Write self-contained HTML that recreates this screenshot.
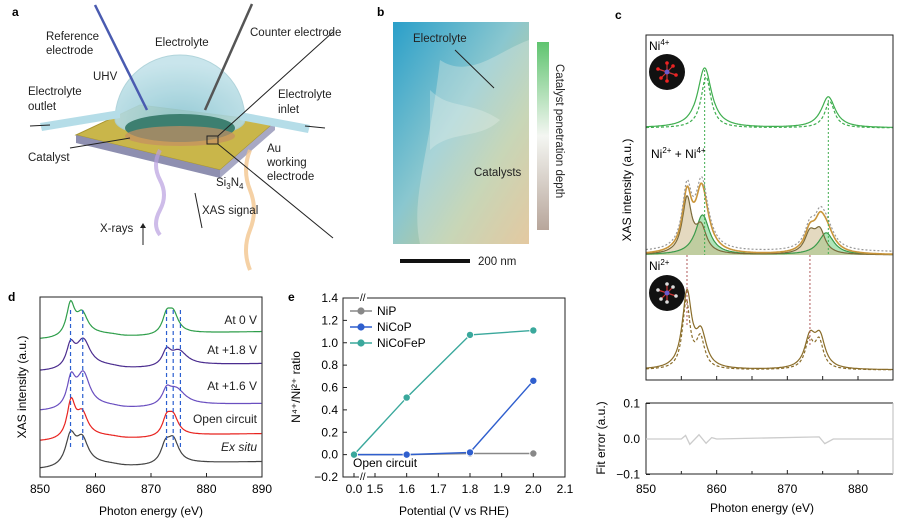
<!DOCTYPE html>
<html><head><meta charset="utf-8"><style>
body{margin:0;background:#fff;width:897px;height:525px;overflow:hidden}
svg text{font-family:"Liberation Sans",sans-serif}
</style></head><body>
<svg width="897" height="525" viewBox="0 0 897 525">
<defs>
<linearGradient id="imgb" x1="0" y1="0" x2="1" y2="1"><stop offset="0" stop-color="#2a9fc9"/><stop offset="0.45" stop-color="#8ac7cf"/><stop offset="0.7" stop-color="#b9c99e"/><stop offset="1" stop-color="#e3b57c"/></linearGradient>
<linearGradient id="cbar" x1="0" y1="0" x2="0" y2="1"><stop offset="0" stop-color="#5fc46f"/><stop offset="0.5" stop-color="#f4f6f2"/><stop offset="1" stop-color="#b8a69b"/></linearGradient>
<radialGradient id="dome" cx="0.5" cy="0.8" r="0.7"><stop offset="0" stop-color="#8cc6d2"/><stop offset="1" stop-color="#c4e3ea"/></radialGradient>
</defs>

<!-- panel a -->
<g>
<text x="12" y="16" font-size="12" font-weight="bold">a</text>
<polygon points="76,135 220,170 275,122 140,105" fill="#c9b64a" stroke="#a89530"/>
<polygon points="76,135 220,170 220,178 76,143" fill="#8e8fb0"/>
<polygon points="220,170 275,122 275,130 220,178" fill="#a7a8c4"/>
<path d="M115,120 A65,65 0 0 1 245,120 A65,18 0 0 1 115,120Z" fill="url(#dome)" opacity="0.9" stroke="#a9d0d8"/>
<ellipse cx="180" cy="128" rx="55" ry="14" fill="#3d7f70"/>
<ellipse cx="180" cy="136" rx="55" ry="10" fill="#c58f63" opacity="0.7"/>
<polygon points="40,123 120,110 120,118 42,131" fill="#b5dde8"/>
<polygon points="240,112 310,125 308,133 240,120" fill="#b5dde8"/>
<line x1="95" y1="5" x2="147" y2="110" stroke="#4a5bb0" stroke-width="2.5"/>
<line x1="252" y1="4" x2="205" y2="110" stroke="#555" stroke-width="2.5"/>
<path d="M160,150 q-8,15 0,30 t0,30 t0,25" stroke="#b9a0e0" stroke-width="4" fill="none" opacity="0.7"/>
<path d="M250,150 q-8,20 0,40 t0,40 t0,40" stroke="#f3c58f" stroke-width="4" fill="none" opacity="0.8"/>
<rect x="207" y="136" width="11" height="8" fill="none" stroke="#222"/>
<line x1="218" y1="136" x2="333" y2="32" stroke="#222"/>
<line x1="218" y1="144" x2="333" y2="238" stroke="#222"/>
<line x1="130" y1="138" x2="70" y2="148" stroke="#222"/>
<line x1="50" y1="125" x2="30" y2="126" stroke="#222"/>
<line x1="325" y1="128" x2="305" y2="126" stroke="#222"/>
<line x1="143" y1="225" x2="143" y2="245" stroke="#222"/><path d="M140,228 l3,-5 3,5" fill="#222"/>
<line x1="195" y1="193" x2="202" y2="228" stroke="#222"/>
<g font-size="11.5" fill="#222">
<text x="46" y="40">Reference</text><text x="46" y="54">electrode</text>
<text x="155" y="46">Electrolyte</text>
<text x="250" y="36">Counter electrode</text>
<text x="93" y="80">UHV</text>
<text x="28" y="95">Electrolyte</text><text x="28" y="110">outlet</text>
<text x="278" y="98">Electrolyte</text><text x="278" y="113">inlet</text>
<text x="28" y="161">Catalyst</text>
<text x="267" y="152">Au</text><text x="267" y="166">working</text><text x="267" y="180">electrode</text>
<text x="216" y="186">Si<tspan font-size="8" dy="3">3</tspan><tspan dy="-3">N</tspan><tspan font-size="8" dy="3">4</tspan></text>
<text x="202" y="214">XAS signal</text>
<text x="100" y="232">X-rays</text>
</g></g>

<!-- panel b -->
<g>
<text x="377" y="16" font-size="12" font-weight="bold">b</text>
<rect x="393" y="22" width="136" height="222" fill="url(#imgb)"/>
<path d="M440,60 C470,80 500,50 529,40 L529,244 L420,244 C410,200 430,150 440,60Z" fill="#e6efe6" opacity="0.35"/>
<path d="M430,90 C450,110 470,100 500,120 C480,140 450,130 430,150Z" fill="#f0f4f0" opacity="0.3"/>
<text x="413" y="42" font-size="11.5" fill="#222">Electrolyte</text>
<line x1="455" y1="50" x2="494" y2="88" stroke="#222"/>
<text x="474" y="176" font-size="11.5" fill="#222">Catalysts</text>
<rect x="537" y="42" width="12" height="188" fill="url(#cbar)"/>
<text transform="translate(556,64) rotate(90)" font-size="11.5" fill="#222">Catalyst penetration depth</text>
<rect x="400" y="259" width="70" height="4" fill="#111"/>
<text x="478" y="265" font-size="11.5" fill="#222">200 nm</text>
</g>

<g id="gc"></g>
<g id="gd"></g>
<g id="ge"></g>
</svg>
<script>
// ---------- Data ----------
// panel e
const eCats=[0.0,1.6,1.8,2.0];
const eNiP=[0.0,0.0,0.01,0.01];
const eNiCoP=[0.0,0.0,0.02,0.66];
const eNiCoFeP=[0.0,0.51,1.07,1.11];
const eYTicks=[-0.2,0.0,0.2,0.4,0.6,0.8,1.0,1.2,1.4];
const eXTicks=[1.5,1.6,1.7,1.8,1.9,2.0,2.1];
// panel d: peaks [center eV, height px, width eV]
const dLabels=["At 0 V","At +1.8 V","At +1.6 V","Open circuit","Ex situ"];
const dColors=["#2e9e4a","#4b2d8f","#6a4fc0","#e8231f","#444"];
const dBase=[340,372,412,442,470];
const dPeaks=[
 [[855.5,32,0.9],[857.6,20,1.2],[872.8,17,0.9],[874.0,19,1.1]],
 [[855.5,22,0.9],[857.8,26,1.5],[872.8,14,0.9],[875.0,14,1.8]],
 [[855.6,28,0.9],[857.8,32,1.4],[872.8,12,0.9],[874.5,16,2.0]],
 [[855.6,36,0.9],[857.6,22,1.2],[872.8,16,0.9],[874.0,18,1.1]],
 [[855.5,30,1.1],[857.6,24,1.3],[872.6,17,1.0],[874.0,22,1.2]]];
const dDash=[855.5,857.7,872.8,874.0,875.3];
const dXTicks=[850,860,870,880,890];
// panel c
const cNi4=[[858.3,60,1.2],[875.8,31,1.2]];
const cNi2=[[855.8,75,0.8],[857.8,33,0.9],[873.2,30,0.9],[874.6,30,0.9]];
const cMixNi2=[[855.8,55,0.8],[857.8,25,0.9],[873.2,20,0.9],[874.6,22,0.9]];
const cMixNi4=[[858.0,40,1.2],[875.5,22,1.3]];
const cXTicks=[850,860,870,880];
const cErrTicks=[-0.1,0.0,0.1];
const cErrVals=[[850,0],[855,0],[855.6,0.01],[856.2,-0.015],[857.5,0.012],[858.5,-0.012],[859.3,0.004],[860,0],[874.5,0.006],[875.3,-0.013],[876.5,0],[885,0]];

const NS="http://www.w3.org/2000/svg";
function el(parent,tag,attrs,txt){const e=document.createElementNS(NS,tag);for(const k in attrs)e.setAttribute(k,attrs[k]);if(txt!==undefined)e.textContent=txt;parent.appendChild(e);return e;}
function lor(x,p){let s=0;for(const [c,h,w] of p)s+=h/(1+((x-c)/w)**2);return s;}
function edge(x,c,h){return h*(0.5+Math.atan((x-c)/1.2)/Math.PI);}
function niLabel(g,x,y,parts){const t=el(g,'text',{x:x,y:y,'font-size':12});parts.forEach(([s,sup])=>{const ts=document.createElementNS(NS,'tspan');if(sup){ts.setAttribute('font-size','8');ts.setAttribute('dy','-5');}else{ts.setAttribute('dy',t.childNodes.length?'5':'0');}ts.textContent=s;t.appendChild(ts);});return t;}

// ---------- Panel d ----------
const gd=document.getElementById('gd');
const dx=v=>40+(v-850)*(222/40);
el(gd,'text',{x:8,y:301,'font-size':12,'font-weight':'bold'},'d');
dLabels.forEach((lab,i)=>{
 let pts=[];
 for(let v=850;v<=890;v+=0.15){const y=dBase[i]-lor(v,dPeaks[i])-edge(v,856,6)+edge(v,864,3)-edge(v,873,4)-(v-876)*0.1*(v>876);pts.push(dx(v).toFixed(1)+','+y.toFixed(1));}
 const p=el(gd,'polyline',{points:pts.join(' '),fill:'none',stroke:dColors[i],'stroke-width':1.2});
 
 
 const t=el(gd,'text',{x:257,y:[324,354,390,423,451][i],'font-size':12,'text-anchor':'end','font-style':i==4?'italic':'normal',fill:'#222'},lab);
 
 
});
dDash.forEach(v=>{const l=el(gd,'line',{x1:dx(v),x2:dx(v),y1:310,y2:450,stroke:'#2b5fd0','stroke-dasharray':'4,3','stroke-width':1.2});
 
 });
el(gd,'rect',{x:40,y:297,width:222,height:180,fill:'none',stroke:'#222'});
dXTicks.forEach(v=>{el(gd,'line',{x1:dx(v),x2:dx(v),y1:477,y2:473,stroke:'#222'});const t=el(gd,'text',{x:dx(v),y:493,'font-size':12,'text-anchor':'middle'},v);});
el(gd,'text',{x:151,y:515,'font-size':12,'text-anchor':'middle'},'Photon energy (eV)');
el(gd,'text',{transform:'translate(26,387) rotate(-90)','font-size':12,'text-anchor':'middle'},'XAS intensity (a.u.)');

// ---------- Panel e ----------
const ge=document.getElementById('ge');
const ex=v=>v<1?354:375+(v-1.5)*(190/0.6);
const ey=v=>298+(1.4-v)*(179/1.6);
el(ge,'text',{x:288,y:301,'font-size':12,'font-weight':'bold'},'e');
el(ge,'rect',{x:343,y:298,width:222,height:179,fill:'none',stroke:'#222'});
el(ge,'rect',{x:359,y:294,width:8,height:8,fill:'#fff'});
el(ge,'rect',{x:359,y:473,width:8,height:8,fill:'#fff'});
el(ge,'text',{x:360,y:301,'font-size':10},'//');
el(ge,'text',{x:360,y:480,'font-size':10},'//');
eYTicks.forEach(v=>{el(ge,'line',{x1:343,x2:347,y1:ey(v),y2:ey(v),stroke:'#222'});const t=el(ge,'text',{x:338,y:ey(v)+4,'font-size':12,'text-anchor':'end'},v<0?'\u2212'+Math.abs(v).toFixed(1):v.toFixed(1));});
[0.0].concat(eXTicks).forEach(v=>{el(ge,'line',{x1:ex(v),x2:ex(v),y1:477,y2:473,stroke:'#222'});const t=el(ge,'text',{x:ex(v),y:493,'font-size':12,'text-anchor':'middle'},v.toFixed(1));});
el(ge,'text',{x:454,y:515,'font-size':12,'text-anchor':'middle'},'Potential (V vs RHE)');
const yl=el(ge,'text',{transform:'translate(300,387) rotate(-90)','font-size':12,'text-anchor':'middle'},'N\u2074\u207A/Ni\u00B2\u207A ratio');


el(ge,'text',{x:353,y:467,'font-size':12},'Open circuit');
const series=[["NiP",eNiP,"#888"],["NiCoP",eNiCoP,"#2f5fce"],["NiCoFeP",eNiCoFeP,"#3aa89c"]];
series.forEach(([n,vals,c],k)=>{
 const pl=el(ge,'polyline',{points:eCats.map((x,i)=>ex(x)+','+ey(vals[i])).join(' '),fill:'none',stroke:c,'stroke-width':1.4});
 
 
 eCats.forEach((x,i)=>{const m=el(ge,'circle',{cx:ex(x),cy:ey(vals[i]),r:3.6,fill:c,stroke:'#fff','stroke-width':0.8});
  
  });
 const ly=311+k*16;
 el(ge,'line',{x1:350,x2:372,y1:ly,y2:ly,stroke:c,'stroke-width':1.4});
 el(ge,'circle',{cx:361,cy:ly,r:3.6,fill:c});
 const lt=el(ge,'text',{x:377,y:ly+4,'font-size':12},n);
 
 
});

// ---------- Panel c ----------
const gc=document.getElementById('gc');
const cx=v=>646+(v-850)*(212/30);
el(gc,'text',{x:615,y:19,'font-size':12,'font-weight':'bold'},'c');
function curve(base,peaks,color,extra){let pts=[];for(let v=850;v<=885;v+=0.1){pts.push(cx(v).toFixed(1)+','+(base-lor(v,peaks)).toFixed(1));}return el(gc,'polyline',Object.assign({points:pts.join(' '),fill:'none',stroke:color,'stroke-width':1.2},extra||{}));}
function area(base,peaks,color){let pts=[cx(850)+','+base];for(let v=850;v<=885;v+=0.1)pts.push(cx(v).toFixed(1)+','+(base-lor(v,peaks)).toFixed(1));pts.push(cx(885)+','+base);return el(gc,'polygon',{points:pts.join(' '),fill:color,opacity:0.55});}
curve(128,cNi4,'#3fae4f');
curve(128,cNi4.map(([c,h,w])=>[c+0.2,h*0.85,w*0.7]),'#3fae4f',{'stroke-dasharray':'3,2'});
area(255,cMixNi4,'#6fcf7f');area(255,cMixNi2,'#cdb98c');
curve(255,cMixNi4,'#3a9a4a');curve(255,cMixNi2,'#7a6a3a');
curve(255,cMixNi2.concat(cMixNi4),'#c9953a',{'stroke-width':1.6});
curve(252,cMixNi2.concat(cMixNi4).map(([c,h,w])=>[c,h*1.05,w]),'#999',{'stroke-dasharray':'2,2'});
curve(370,cNi2,'#8a6d2a');
curve(370,cNi2.map(([c,h,w])=>[c-0.1,h*0.9,w*0.8]),'#8a6d2a',{'stroke-dasharray':'3,2'});
[[858.3,70,255,'#3fae4f'],[875.8,100,255,'#3fae4f'],[855.8,255,325,'#b05a5a'],[873.2,255,345,'#b05a5a']].forEach(([v,y1,y2,c])=>{const l=el(gc,'line',{x1:cx(v),x2:cx(v),y1:y1,y2:y2,stroke:c,'stroke-dasharray':'2,2'});});
el(gc,'rect',{x:646,y:35,width:247,height:345,fill:'none',stroke:'#222'});
[855,860,865,870,875,880].forEach(v=>el(gc,'line',{x1:cx(v),x2:cx(v),y1:380,y2:376,stroke:'#222'}));
niLabel(gc,649,50,[['Ni',0],['4+',1]]);
niLabel(gc,651,158,[['Ni',0],['2+',1],[' + Ni',0],['4+',1]]);
niLabel(gc,649,270,[['Ni',0],['2+',1]]);
[[667,72],[667,293]].forEach(([x,y],k)=>{el(gc,'circle',{cx:x,cy:y,r:18,fill:'#111'});[[0,-9],[0,9],[-9,-3],[9,3],[-6,6],[6,-6]].forEach(([a,b])=>{el(gc,'line',{x1:x,y1:y,x2:x+a,y2:y+b,stroke:'#c33','stroke-width':1.2});el(gc,'circle',{cx:x+a,cy:y+b,r:1.8,fill:k?'#ddd':'#e22'});});el(gc,'circle',{cx:x,cy:y,r:2.5,fill:'#6a5acd'});});
el(gc,'text',{transform:'translate(631,190) rotate(-90)','font-size':12,'text-anchor':'middle'},'XAS intensity (a.u.)');
const cy=v=>439-v*355;
el(gc,'line',{x1:646,x2:646,y1:403,y2:474,stroke:'#222'});
el(gc,'line',{x1:646,x2:893,y1:474,y2:474,stroke:'#222'});
el(gc,'line',{x1:646,x2:893,y1:403,y2:403,stroke:'#222'});
el(gc,'line',{x1:893,x2:893,y1:403,y2:474,stroke:'#bbb'});
cErrTicks.forEach(v=>{el(gc,'line',{x1:646,x2:650,y1:cy(v),y2:cy(v),stroke:'#222'});el(gc,'text',{x:640,y:cy(v)+4,'font-size':12,'text-anchor':'end'},v<0?'\u22120.1':v.toFixed(1));});
const er=el(gc,'polyline',{points:cErrVals.map(([x,y])=>cx(x)+','+cy(y)).join(' '),fill:'none',stroke:'#ccc','stroke-width':1.3});


cXTicks.forEach(v=>{el(gc,'line',{x1:cx(v),x2:cx(v),y1:474,y2:470,stroke:'#222'});el(gc,'text',{x:cx(v),y:493,'font-size':12,'text-anchor':'middle'},v);});
[855,865,875].forEach(v=>el(gc,'line',{x1:cx(v),x2:cx(v),y1:474,y2:471,stroke:'#222'}));
el(gc,'text',{transform:'translate(605,438) rotate(-90)','font-size':12,'text-anchor':'middle'},'Fit error (a.u.)');
el(gc,'text',{x:762,y:512,'font-size':12,'text-anchor':'middle'},'Photon energy (eV)');
</script>
</body></html>
